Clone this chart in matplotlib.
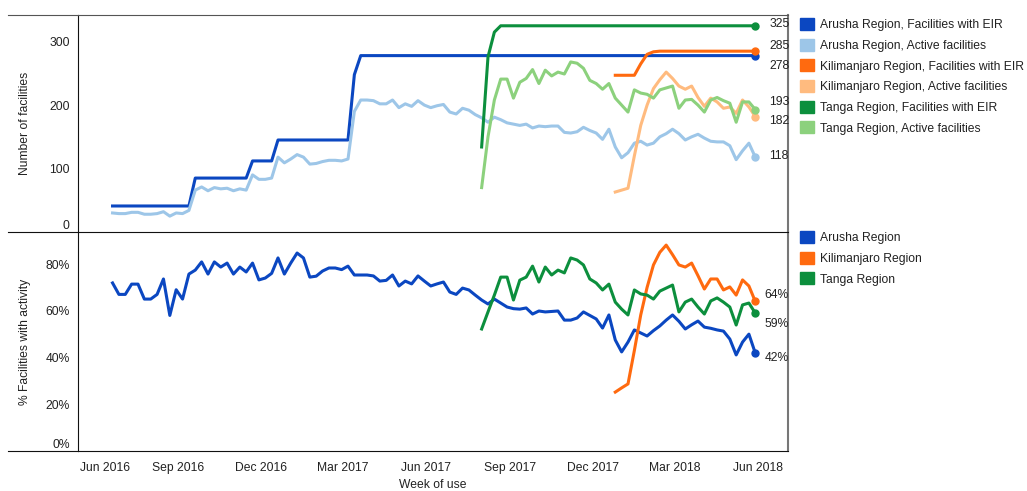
import numpy as np
import pandas as pd
import matplotlib
matplotlib.use('Agg')
import matplotlib.pyplot as plt
from matplotlib.patches import Patch
from matplotlib.lines import Line2D
from matplotlib.transforms import ScaledTranslation
import matplotlib.dates as mdates

plt.rcParams['font.family'] = ['Liberation Sans', 'DejaVu Sans']

# ===================== ДАННЫЕ =====================
weeks = pd.date_range('2016-06-21', periods=102, freq='7D')
tanga_start = 58
kili_start = 79

arusha_eir = [41] * 13 + [85] * 9 + [112] * 4 + [145] * 12 + [248] + [278] * 63
arusha_active = [30, 29, 29, 31, 31, 28, 28, 29, 32, 25, 30, 29, 34,
                 66, 71, 65, 70, 68, 69, 65, 68, 66,
                 90, 83, 83, 85,
                 118, 109, 115, 122, 118, 107, 108, 111, 113, 113, 112, 115,
                 190, 208, 208, 207, 202, 202, 208, 196, 202, 198, 207, 200,
                 196, 199, 201, 189, 186, 195, 192, 185, 180, 173, 181, 177,
                 172, 170, 168, 170, 164, 167, 166, 167, 167, 157, 156, 158,
                 165, 160, 156, 146, 162, 134, 117, 125, 140, 143, 137, 140,
                 150, 155, 162, 155, 145, 150, 154, 148, 143, 142, 142, 136,
                 114, 128, 140, 118]
kili_eir = [247, 247, 247, 247, 265, 280, 284] + [285] * 16
kili_active = [63, 66, 69, 120, 168, 200, 226, 240, 252, 242, 230, 225,
               230, 212, 198, 211, 205, 195, 197, 187, 208, 197, 182]
tanga_eir = [134, 276, 315] + [325] * 41
tanga_active = [70, 150, 208, 241, 241, 211, 236, 242, 256, 234, 255, 246,
                252, 249, 268, 266, 258, 239, 234, 225, 234, 211, 200, 189,
                224, 219, 217, 211, 224, 227, 230, 195, 208, 209, 200, 189,
                208, 212, 207, 203, 173, 205, 205, 193]

arusha_pct = [71.9, 67, 67, 71.4, 71.4, 65, 65, 67, 73.6, 58, 69, 65,
              75.7, 77.4, 80.9, 75.7, 80.9, 78.7, 80.4, 75.7, 78.7, 76.6, 80.4, 73.2,
              74, 76, 82.6, 75.7, 80.4, 84.7, 82.6, 74.4, 74.8, 77, 78.3, 78.3,
              77.6, 79.1, 75.3, 75.3, 75.3, 74.9, 72.7, 73, 75.3, 70.6, 72.7, 71.5,
              74.9, 72.7, 70.6, 71.5, 72.3, 68, 67, 69.7, 68.9, 66.7, 64.6, 62.9,
              65, 63.3, 61.6, 60.9, 60.7, 61.2, 58.6, 59.9, 59.5, 59.7, 59.9, 56,
              56, 56.9, 59.5, 58, 56.5, 52.6, 58.2, 47.5, 42.4, 46.6, 51.8, 50.5,
              49.2, 51.5, 53.5, 56, 58.2, 55.5, 52.2, 54, 55.6, 53, 52.5, 51.8,
              51.3, 47.9, 41.1, 46.6, 50, 41.9]
kili_pct = [25.2, 27, 28.7, 43, 58.2, 70, 79.6, 85, 88.1, 84, 79.6, 78.7,
            80.4, 75, 69.3, 73.6, 73.6, 68.9, 70.2, 66.7, 73.2, 70.6, 64]
tanga_pct = [52.2, 59.5, 66.7, 74.4, 74.4, 64.6, 73.1, 74.4, 79.1, 72.3, 78.7, 75.3,
             77.4, 76.2, 82.6, 81.7, 79.6, 73.6, 71.9, 68.9, 71.4, 63.7, 60.7, 58.2,
             68.9, 67.2, 66.7, 65, 68.4, 69.7, 71, 59.5, 63.7, 65, 61.6, 58.6,
             64.2, 65.5, 63.7, 61.6, 53.9, 62.5, 63.3, 59]

top_labels = ['Arusha Region, Facilities with EIR', 'Arusha Region, Active facilities',
              'Kilimanjaro Region, Facilities with EIR', 'Kilimanjaro Region, Active facilities',
              'Tanga Region, Facilities with EIR', 'Tanga Region, Active facilities']
bottom_labels = ['Arusha Region', 'Kilimanjaro Region', 'Tanga Region']

# ===================== ОФОРМЛЕНИЕ =====================
c_ar, c_ar_l = '#0b47c1', '#9dc6e8'
c_ki, c_ki_l = '#ff6a0f', '#ffbb7f'
c_ta, c_ta_l = '#0c8f3d', '#8cd17d'
fs = 8.75
txt = '#222222'

W, H = 1027, 491
fig = plt.figure(figsize=(W / 100, H / 100), dpi=100)
ax1 = fig.add_axes([78 / W, 1 - 232 / H, 710 / W, 217 / H])
ax2 = fig.add_axes([78 / W, 1 - 451 / H, 710 / W, 219 / H])

top_series = [
    (arusha_eir, 0, c_ar, (0, -7.5)),
    (arusha_active, 0, c_ar_l, (0, 1)),
    (kili_eir, kili_start, c_ki, (0, 3.5)),
    (kili_active, kili_start, c_ki_l, (0, -3)),
    (tanga_eir, tanga_start, c_ta, (0, 1.5)),
    (tanga_active, tanga_start, c_ta_l, (0, 5.5)),
]

for vals, start, col, off in top_series:
    x = weeks[start:start + len(vals)]
    ax1.plot(x, vals, color=col, lw=2.2, solid_joinstyle='round')
    ax1.plot(x[-1], vals[-1], 'o', color=col, ms=5)
    ax1.annotate(f'{vals[-1]}', xy=(0.974, vals[-1]),
                 xycoords=('axes fraction', 'data'), xytext=off,
                 textcoords='offset points', ha='left', va='center',
                 fontsize=fs, color=txt, annotation_clip=False)

bottom_series = [
    (arusha_pct, 0, c_ar, (0, -3.5)),
    (kili_pct, kili_start, c_ki, (0, 4.5)),
    (tanga_pct, tanga_start, c_ta, (0, -7.5)),
]
for vals, start, col, off in bottom_series:
    x = weeks[start:start + len(vals)]
    ax2.plot(x, vals, color=col, lw=2.2, solid_joinstyle='round')
    ax2.plot(x[-1], vals[-1], 'o', color=col, ms=5)
    ax2.annotate(f'{vals[-1]:.0f}%', xy=(0.967, vals[-1]),
                 xycoords=('axes fraction', 'data'), xytext=off,
                 textcoords='offset points', ha='left', va='center',
                 fontsize=fs, color=txt, annotation_clip=False)

# оси
xmin, xmax = pd.Timestamp('2016-05-14'), pd.Timestamp('2018-07-04')
tick_dates = pd.date_range('2016-06-01', '2018-06-01', freq='3MS')
for ax in (ax1, ax2):
    ax.set_xlim(xmin, xmax)
    ax.set_xticks(tick_dates)
    ax.tick_params(length=0, labelsize=fs, labelcolor=txt)
    ax.spines['left'].set_color('#111111')
    ax.spines['right'].set_color('#777777')
    ax.spines['right'].set_linewidth(1.5)

ax1.set_ylim(0, 342)
ax1.set_yticks([0, 100, 200, 300])
ax1.tick_params(axis='x', labelbottom=False)
ax1.tick_params(axis='y', pad=6)
ax1.spines['top'].set_color('#555555')
ax1.spines['bottom'].set_visible(False)

ax2.set_ylim(0, 93.7)
ax2.set_yticks([0, 20, 40, 60, 80])
ax2.set_yticklabels([f'{v}%' for v in [0, 20, 40, 60, 80]])
ax2.tick_params(axis='y', pad=6)
ax2.tick_params(axis='x', pad=8)
ax2.xaxis.set_major_formatter(mdates.DateFormatter('%b %Y'))
ax2.spines['top'].set_color('#111111')
ax2.spines['bottom'].set_color('#111111')

fig.canvas.draw()
ax1.get_yticklabels()[0].set_va('bottom')
ax2.get_yticklabels()[0].set_va('bottom')
first = ax2.get_xticklabels()[0]
first.set_transform(first.get_transform() + ScaledTranslation(0.106, 0, fig.dpi_scale_trans))

ax1.set_ylabel('Number of facilities', fontsize=fs, color=txt)
ax1.yaxis.set_label_coords(-0.066, 0.5)
ax2.set_ylabel('% Facilities with activity', fontsize=fs, color=txt)
ax2.yaxis.set_label_coords(-0.066, 0.5)
ax2.set_xlabel('Week of use', fontsize=fs, color=txt)
ax2.xaxis.set_label_coords(0.5, -0.128)

# горизонтальные линии рамки слева
for y, col in [(15, '#555555'), (232, '#111111'), (451, '#111111')]:
    fig.add_artist(Line2D([8 / W, 78 / W], [1 - y / H, 1 - y / H],
                          color=col, lw=0.8))

# легенды
top_cols = [c_ar, c_ar_l, c_ki, c_ki_l, c_ta, c_ta_l]
leg_kw = dict(frameon=False, fontsize=fs, handlelength=1.15, handleheight=1.15,
              handletextpad=0.5, labelspacing=0.62, borderpad=0, borderaxespad=0,
              labelcolor=txt, loc='upper left')
fig.legend([Patch(color=c) for c in top_cols], top_labels,
           bbox_to_anchor=(800 / W, 1 - 18 / H), **leg_kw)
fig.legend([Patch(color=c) for c in [c_ar, c_ki, c_ta]], bottom_labels,
           bbox_to_anchor=(800 / W, 1 - 231 / H), **leg_kw)

fig.savefig('out.png', dpi=100)
